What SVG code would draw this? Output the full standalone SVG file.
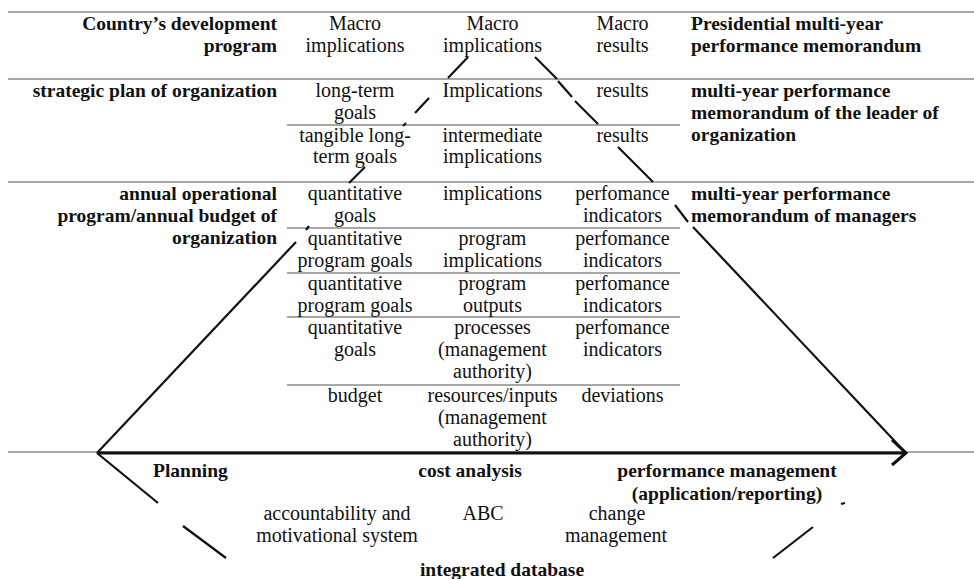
<svg xmlns="http://www.w3.org/2000/svg" width="974" height="579" viewBox="0 0 974 579">
  <style>
    text { font-family: "Liberation Serif", "Times New Roman", serif; fill: #111; }
    .r { font-size: 20px; text-anchor: middle; }
    .b { font-size: 19.5px; font-weight: bold; }
    .bl { text-anchor: end; }
    .bc { text-anchor: middle; }
    .grid { stroke: #8a8a8a; stroke-width: 1.4; fill: none; }
    .edge { stroke: #111; stroke-width: 2.2; fill: none; stroke-linecap: butt; }
    .axis { stroke: #111; stroke-width: 3; fill: none; }
  </style>

  <rect width="974" height="579" fill="#fff"/>

  <!-- table rules -->
  <g id="grid">
    <line class="grid" x1="8" y1="12" x2="974" y2="12"/>
    <line class="grid" x1="8" y1="79" x2="974" y2="79"/>
    <line class="grid" x1="287" y1="125" x2="680" y2="125"/>
    <line class="grid" x1="8" y1="182" x2="974" y2="182"/>
    <line class="grid" x1="287" y1="228" x2="680" y2="228"/>
    <line class="grid" x1="287" y1="273" x2="680" y2="273"/>
    <line class="grid" x1="287" y1="317" x2="680" y2="317"/>
    <line class="grid" x1="287" y1="385" x2="680" y2="385"/>
    <line class="grid" x1="8" y1="452" x2="974" y2="452"/>
  </g>

  <!-- pyramid edges, axis arrow and lower funnel -->
  <g id="connectors">
    <!-- left edge of pyramid -->
    <line class="edge" x1="97" y1="453" x2="296" y2="242"/>
    <line class="edge" x1="306" y1="230" x2="309" y2="226"/>
    <line class="edge" x1="349" y1="183" x2="365" y2="167"/>
    <line class="edge" x1="403" y1="126" x2="406" y2="123"/>
    <line class="edge" x1="415" y1="113" x2="429" y2="98"/>
    <line class="edge" x1="448" y1="78" x2="468" y2="57"/>
    <!-- right edge of pyramid -->
    <line class="edge" x1="535" y1="57" x2="557" y2="79"/>
    <line class="edge" x1="558" y1="81" x2="572" y2="97"/>
    <line class="edge" x1="575" y1="101" x2="598" y2="124"/>
    <line class="edge" x1="618" y1="147" x2="653" y2="182"/>
    <line class="edge" x1="675" y1="205" x2="688" y2="222"/>
    <line class="edge" x1="693" y1="227" x2="905" y2="452"/>
    <!-- horizontal axis arrow -->
    <line class="axis" x1="97" y1="453" x2="905" y2="453"/>
    <polyline class="axis" points="892,440 906,453 892,465"/>
    <!-- lower funnel -->
    <line class="edge" x1="97" y1="453" x2="158" y2="503"/>
    <line class="edge" x1="183" y1="526" x2="226" y2="558"/>
    <line class="edge" x1="841" y1="504" x2="845" y2="503"/>
    <line class="edge" x1="813" y1="527" x2="773" y2="558"/>
  </g>

  <g font-family="Liberation Serif, Times New Roman, serif">
  <!-- tier 1: national level -->
  <g id="tier-national">
    <text class="b bl" x="277" y="30">Country’s development</text>
    <text class="b bl" x="277" y="52">program</text>
    <text class="r" x="355" y="30">Macro</text>
    <text class="r" x="355" y="52">implications</text>
    <text class="r" x="492.5" y="30">Macro</text>
    <text class="r" x="492.5" y="52">implications</text>
    <text class="r" x="622.5" y="30">Macro</text>
    <text class="r" x="622.5" y="52">results</text>
    <text class="b" x="691" y="30">Presidential multi-year</text>
    <text class="b" x="691" y="52">performance memorandum</text>
  </g>

  <!-- tier 2: strategic plan -->
  <g id="tier-strategic">
    <text class="b bl" x="277" y="97">strategic plan of organization</text>
    <text class="r" x="355" y="97">long-term</text>
    <text class="r" x="355" y="119">goals</text>
    <text class="r" x="492.5" y="97">Implications</text>
    <text class="r" x="622.5" y="97">results</text>
    <text class="r" x="355" y="141.5">tangible long-</text>
    <text class="r" x="355" y="163">term goals</text>
    <text class="r" x="492.5" y="141.5">intermediate</text>
    <text class="r" x="492.5" y="163">implications</text>
    <text class="r" x="622.5" y="141.5">results</text>
    <text class="b" x="691" y="97">multi-year performance</text>
    <text class="b" x="691" y="119">memorandum of the leader of</text>
    <text class="b" x="691" y="141">organization</text>
  </g>

  <!-- tier 3: annual operational program -->
  <g id="tier-annual">
    <text class="b bl" x="277" y="200">annual operational</text>
    <text class="b bl" x="277" y="222">program/annual budget of</text>
    <text class="b bl" x="277" y="243.5">organization</text>
    <text class="b" x="691" y="200">multi-year performance</text>
    <text class="b" x="691" y="222">memorandum of managers</text>

    <text class="r" x="355" y="200">quantitative</text>
    <text class="r" x="355" y="222">goals</text>
    <text class="r" x="492.5" y="200">implications</text>
    <text class="r" x="622.5" y="200">perfomance</text>
    <text class="r" x="622.5" y="222">indicators</text>

    <text class="r" x="355" y="245">quantitative</text>
    <text class="r" x="355" y="267">program goals</text>
    <text class="r" x="492.5" y="245">program</text>
    <text class="r" x="492.5" y="267">implications</text>
    <text class="r" x="622.5" y="245">perfomance</text>
    <text class="r" x="622.5" y="267">indicators</text>

    <text class="r" x="355" y="290">quantitative</text>
    <text class="r" x="355" y="312">program goals</text>
    <text class="r" x="492.5" y="290">program</text>
    <text class="r" x="492.5" y="312">outputs</text>
    <text class="r" x="622.5" y="290">perfomance</text>
    <text class="r" x="622.5" y="312">indicators</text>

    <text class="r" x="355" y="334">quantitative</text>
    <text class="r" x="355" y="356">goals</text>
    <text class="r" x="492.5" y="334">processes</text>
    <text class="r" x="492.5" y="356">(management</text>
    <text class="r" x="492.5" y="378">authority)</text>
    <text class="r" x="622.5" y="334">perfomance</text>
    <text class="r" x="622.5" y="356">indicators</text>

    <text class="r" x="355" y="402">budget</text>
    <text class="r" x="492.5" y="402">resources/inputs</text>
    <text class="r" x="492.5" y="424">(management</text>
    <text class="r" x="492.5" y="445.5">authority)</text>
    <text class="r" x="622.5" y="402">deviations</text>
  </g>

  <!-- management cycle below the axis -->
  <g id="cycle">
    <text class="b" x="153" y="477">Planning</text>
    <text class="b bc" x="470" y="477">cost analysis</text>
    <text class="b bc" x="727" y="477">performance management</text>
    <text class="b bc" x="727" y="499.5">(application/reporting)</text>
    <text class="r" x="337" y="520">accountability and</text>
    <text class="r" x="337" y="542">motivational system</text>
    <text class="r" x="483" y="520">ABC</text>
    <text class="r" x="617" y="520">change</text>
    <text class="r" x="616" y="542">management</text>
    <text class="b bc" x="502" y="576">integrated database</text>
  </g>
  </g>
</svg>
